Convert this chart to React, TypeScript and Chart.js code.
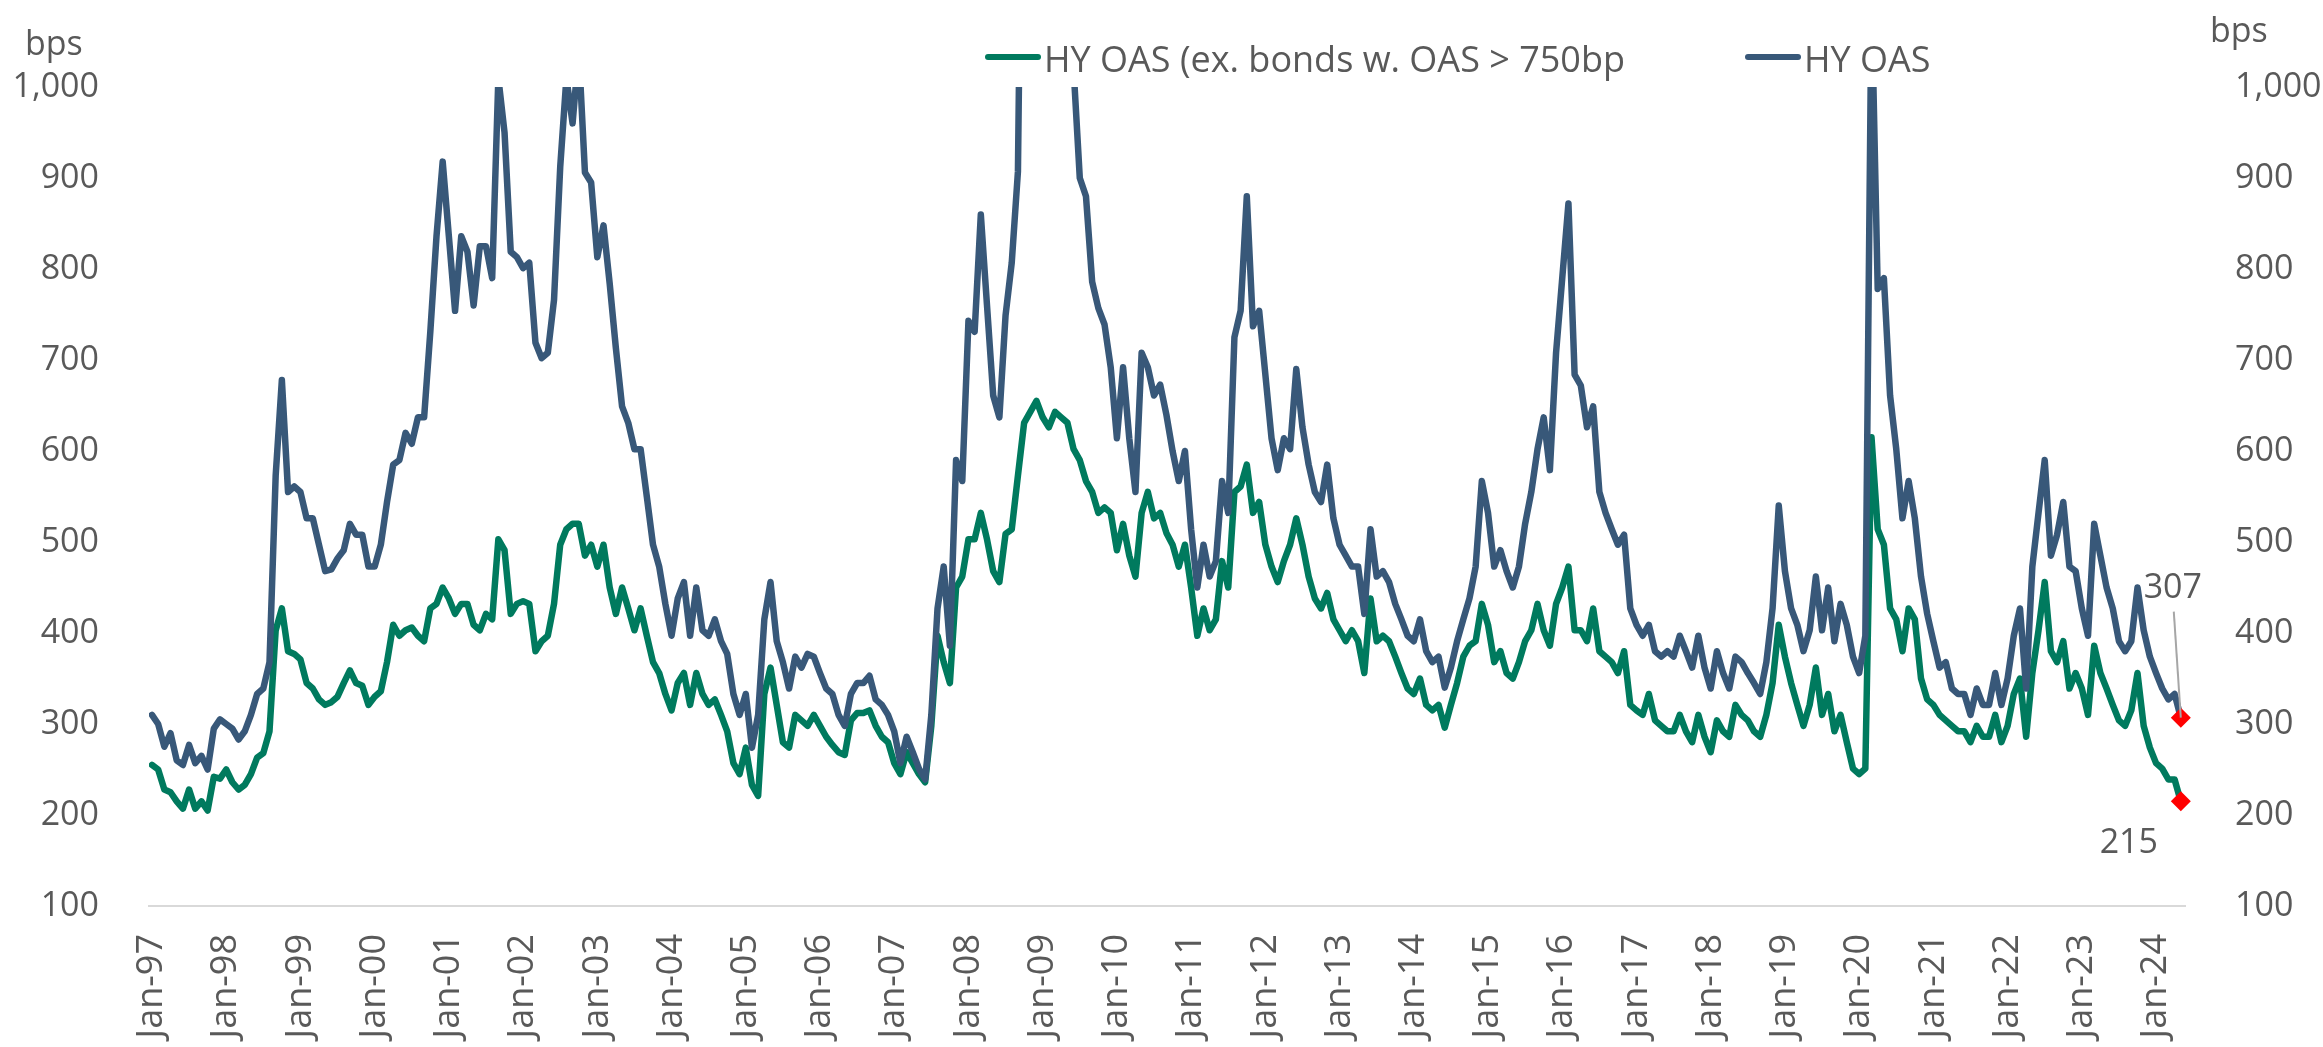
import { useEffect, useRef } from "react";
import { Chart, registerables } from "chart.js";

Chart.register(...registerables);

// Axis tick labels, one per January from 1997 to 2024
const tickLabels = [
  "Jan-97", "Jan-98", "Jan-99", "Jan-00", "Jan-01", "Jan-02", "Jan-03",
  "Jan-04", "Jan-05", "Jan-06", "Jan-07", "Jan-08", "Jan-09", "Jan-10",
  "Jan-11", "Jan-12", "Jan-13", "Jan-14", "Jan-15", "Jan-16", "Jan-17",
  "Jan-18", "Jan-19", "Jan-20", "Jan-21", "Jan-22", "Jan-23", "Jan-24",
];

const seriesNames = ["HY OAS (ex. bonds w. OAS > 750bp", "HY OAS"];

// Monthly spreads in bps, starting Jan 1997 (one row per year)
const hyOasExHigh = [
  255, 250, 228, 225, 215, 207, 228, 207, 215, 205, 242, 240,
  250, 236, 228, 233, 245, 263, 268, 292, 403, 427, 380, 377,
  371, 345, 339, 327, 321, 324, 330, 345, 359, 345, 342, 321,
  330, 336, 368, 409, 397, 403, 406, 397, 391, 427, 432, 450,
  438, 421, 432, 432, 409, 403, 421, 415, 503, 491, 421, 432,
  435, 432, 380, 391, 397, 432, 497, 514, 520, 520, 485, 497,
  473, 497, 450, 421, 450, 427, 403, 427, 397, 368, 356, 333,
  315, 345, 356, 321, 356, 333, 321, 327, 310, 292, 257, 245,
  274, 233, 221, 333, 362, 321, 280, 274, 310, 304, 298, 310,
  298, 286, 277, 269, 266, 304, 312, 312, 315, 298, 286, 280,
  257, 245, 269, 257, 245, 236, 298, 397, 368, 345, 450, 462,
  503, 503, 532, 503, 468, 456, 509, 514, 573, 631, 643, 655,
  637, 626, 643, 637, 631, 602, 590, 567, 555, 532, 538, 532,
  491, 520, 485, 462, 532, 555, 526, 532, 510, 497, 473, 497,
  450, 397, 427, 403, 415, 479, 450, 555, 561, 585, 532, 544,
  497, 473, 456, 479, 497, 526, 497, 462, 438, 427, 444, 415,
  403, 391, 403, 391, 356, 438, 391, 397, 391, 374, 356, 339,
  333, 350, 321, 315, 321, 296, 321, 345, 374, 386, 391, 432,
  409, 368, 380, 356, 350, 368, 391, 403, 432, 403, 386, 432,
  450, 473, 403, 403, 391, 427, 380, 374, 368, 356, 380, 321,
  315, 310, 333, 304, 298, 292, 292, 310, 292, 280, 310, 286,
  269, 304, 292, 286, 321, 310, 304, 292, 286, 310, 345, 409,
  374, 345, 321, 298, 321, 362, 310, 333, 292, 310, 280, 251,
  245, 251, 615, 514, 497, 427, 415, 380, 427, 415, 350, 327,
  321, 310, 304, 298, 292, 292, 280, 298, 286, 286, 310, 280,
  298, 333, 350, 286, 356, 403, 456, 380, 368, 391, 339, 356,
  339, 310, 386, 356, 339, 321, 304, 298, 315, 356, 298, 274,
  257, 251, 239, 239, 215,
];

const hyOas = [
  310, 300, 275, 290, 260, 255, 277, 257, 265, 250, 295, 305,
  300, 295, 283, 292, 310, 333, 339, 368, 573, 678, 555, 561,
  555, 526, 526, 497, 468, 470, 482, 491, 520, 508, 508, 473,
  473, 497, 544, 585, 590, 620, 608, 637, 637, 731, 836, 918,
  836, 754, 836, 819, 760, 825, 825, 790, 1010, 950, 819, 813,
  801, 807, 719, 702, 708, 766, 912, 1010, 960, 1040, 906, 895,
  813, 848, 784, 713, 649, 631, 602, 602, 550, 497, 473, 432,
  397, 438, 456, 397, 450, 403, 397, 415, 391, 377, 333, 310,
  333, 274, 310, 415, 456, 391, 368, 339, 374, 362, 377, 374,
  356, 339, 333, 310, 298, 333, 345, 345, 353, 327, 321, 310,
  292, 257, 286, 269, 251, 239, 310, 427, 473, 386, 590, 567,
  743, 731, 860, 760, 661, 637, 749, 807, 907, 1500, 1800, 1750,
  1650, 1700, 1750, 1450, 1150, 1020, 900, 880, 786, 757, 739, 692,
  614, 692, 614, 555, 708, 692, 661, 673, 640, 600, 567, 600,
  514, 450, 497, 462, 479, 567, 532, 725, 754, 880, 737, 754,
  684, 614, 579, 614, 602, 690, 626, 585, 555, 544, 585, 526,
  497, 485, 473, 473, 421, 514, 462, 468, 456, 432, 415, 397,
  391, 415, 380, 368, 374, 340, 362, 391, 415, 438, 473, 567,
  532, 473, 491, 468, 450, 473, 520, 555, 602, 637, 579, 708,
  790, 872, 684, 672, 626, 649, 555, 532, 514, 497, 508, 427,
  409, 397, 409, 380, 374, 380, 374, 397, 380, 362, 397, 362,
  339, 380, 356, 339, 374, 368, 356, 345, 333, 368, 427, 540,
  468, 427, 409, 380, 403, 462, 403, 450, 391, 432, 409, 374,
  356, 397, 1100, 778, 790, 661, 602, 526, 567, 526, 462, 421,
  391, 362, 368, 339, 333, 333, 310, 339, 321, 321, 356, 321,
  350, 397, 427, 339, 473, 532, 590, 485, 508, 544, 473, 468,
  427, 397, 520, 485, 450, 427, 391, 380, 391, 450, 403, 374,
  356, 339, 327, 333, 307,
];

const FONT = '"Open Sans", "Noto Sans", sans-serif';
const TEXT = "#595959";
const GREEN = "#007A5E";
const BLUE = "#385879";
const MARK = "#FF0000";

// x is measured in years since Jan 1997
const toPoints = (vals: number[]) => vals.map((y, i) => ({ x: i / 12, y }));

const lastOnly = (vals: number[], r: number) => (ctx: any) =>
  ctx.dataIndex === vals.length - 1 ? r : 0;

// Draws the unit titles, the legend and the end-point value labels
const overlayPlugin = {
  id: "overlay",
  afterDraw(chart: any) {
    const { ctx } = chart;
    ctx.save();
    ctx.font = `34px ${FONT}`;
    ctx.fillStyle = TEXT;
    ctx.textAlign = "left";
    ctx.textBaseline = "alphabetic";
    ctx.fillText("bps", 25, 55);
    ctx.fillText("bps", 2210, 42);

    // legend entries
    ctx.font = `36px ${FONT}`;
    const legendItems = [
      { ds: 0, x: 985 },
      { ds: 1, x: 1745 },
    ];
    legendItems.forEach(({ ds, x }) => {
      const dataset = chart.data.datasets[ds];
      ctx.strokeStyle = dataset.borderColor;
      ctx.lineWidth = 6;
      ctx.lineCap = "round";
      ctx.beginPath();
      ctx.moveTo(x + 3, 57);
      ctx.lineTo(x + 53, 57);
      ctx.stroke();
      ctx.fillStyle = TEXT;
      ctx.fillText(dataset.label, x + 59, 72);
    });

    // end-point labels
    ctx.font = `34px ${FONT}`;
    const blueMeta = chart.getDatasetMeta(1);
    const greenMeta = chart.getDatasetMeta(0);
    const bp = blueMeta.data[blueMeta.data.length - 1];
    const gp = greenMeta.data[greenMeta.data.length - 1];
    ctx.strokeStyle = "#A6A6A6";
    ctx.lineWidth = 2;
    ctx.lineCap = "butt";
    ctx.beginPath();
    ctx.moveTo(bp.x - 7, bp.y - 106);
    ctx.lineTo(bp.x, bp.y);
    ctx.stroke();
    ctx.fillStyle = TEXT;
    ctx.textAlign = "center";
    ctx.fillText(String(hyOas[hyOas.length - 1]), bp.x - 8, bp.y - 120);
    ctx.fillText(String(hyOasExHigh[hyOasExHigh.length - 1]), gp.x - 52, gp.y + 52);
    ctx.restore();
  },
};

export default function App() {
  const canvasRef = useRef<HTMLCanvasElement>(null);

  useEffect(() => {
    const canvas = canvasRef.current;
    if (!canvas) return;
    const tickFont = { family: FONT, size: 34 };
    const chart = new Chart(canvas, {
      type: "line",
      data: {
        datasets: [
          {
            label: seriesNames[0],
            data: toPoints(hyOasExHigh),
            borderColor: GREEN,
            backgroundColor: GREEN,
            borderWidth: 6.5,
            borderJoinStyle: "round",
            borderCapStyle: "round",
            pointStyle: "rectRot",
            pointRadius: lastOnly(hyOasExHigh, 10),
            pointHoverRadius: 0,
            pointBackgroundColor: MARK,
            pointBorderColor: MARK,
            pointBorderWidth: 0,
            order: 1,
            clip: { left: 0, top: 0, right: 20, bottom: 0 },
          },
          {
            label: seriesNames[1],
            data: toPoints(hyOas),
            borderColor: BLUE,
            backgroundColor: BLUE,
            borderWidth: 6.5,
            borderJoinStyle: "round",
            borderCapStyle: "round",
            pointStyle: "rectRot",
            pointRadius: lastOnly(hyOas, 10),
            pointHoverRadius: 0,
            pointBackgroundColor: MARK,
            pointBorderColor: MARK,
            pointBorderWidth: 0,
            order: 0,
            clip: { left: 0, top: 0, right: 20, bottom: 0 },
          },
        ],
      },
      options: {
        responsive: false,
        animation: false,
        events: [],
        layout: { padding: { top: 87, left: 0, right: 0, bottom: 0 } },
        elements: { line: { tension: 0 } },
        plugins: {
          legend: { display: false },
          tooltip: { enabled: false },
        },
        scales: {
          x: {
            type: "linear",
            min: -0.04,
            max: 27.39,
            afterBuildTicks: (scale: any) => {
              scale.ticks = tickLabels.map((_, i) => ({ value: i }));
            },
            afterFit: (scale: any) => {
              scale.height = 141;
            },
            ticks: {
              autoSkip: false,
              maxRotation: 90,
              minRotation: 90,
              padding: 28,
              color: TEXT,
              font: { family: FONT, size: 36 },
              callback: (_v: any, i: number) => tickLabels[i],
            },
            grid: { display: false, drawTicks: false },
            border: { display: true, color: "#D9D9D9", width: 2 },
          },
          y: {
            position: "left",
            min: 100,
            max: 1000,
            afterFit: (scale: any) => {
              scale.width = 149;
            },
            ticks: {
              stepSize: 100,
              padding: 50,
              color: TEXT,
              font: tickFont,
              callback: (v: any) => Number(v).toLocaleString("en-US"),
            },
            grid: { display: false, drawTicks: false },
            border: { display: false },
          },
          y2: {
            position: "right",
            min: 100,
            max: 1000,
            afterFit: (scale: any) => {
              scale.width = 138;
            },
            ticks: {
              stepSize: 100,
              padding: 50,
              color: TEXT,
              font: tickFont,
              callback: (v: any) => Number(v).toLocaleString("en-US"),
            },
            grid: { display: false, drawTicks: false },
            border: { display: false },
          },
        },
      },
      plugins: [overlayPlugin],
    } as any);
    return () => chart.destroy();
  }, []);

  return (
    <div
      style={{
        position: "fixed",
        left: 0,
        top: 0,
        width: 2323,
        height: 1047,
        background: "#ffffff",
      }}
    >
      <canvas ref={canvasRef} width={2323} height={1047} style={{ display: "block" }} />
    </div>
  );
}
